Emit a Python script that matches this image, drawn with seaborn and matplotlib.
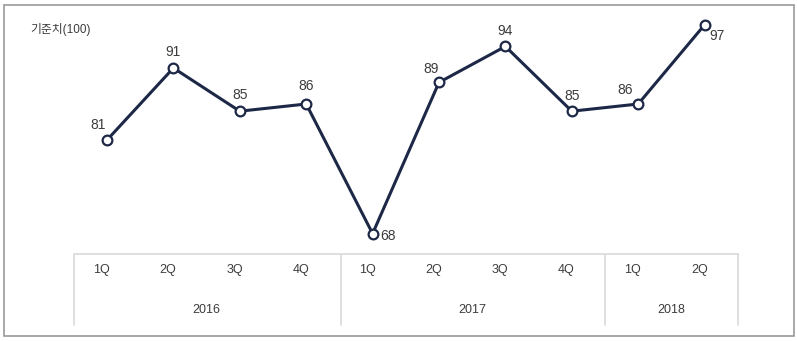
import matplotlib
matplotlib.use("Agg")
import matplotlib.pyplot as plt
from matplotlib.lines import Line2D
from matplotlib.patches import Rectangle
import seaborn as sns
import pandas as pd

quarters = ["1Q", "2Q", "3Q", "4Q", "1Q", "2Q", "3Q", "4Q", "1Q", "2Q"]
years = ["2016", "2017", "2018"]
year_counts = [4, 4, 2]
values = [81, 91, 85, 86, 68, 89, 94, 85, 86, 97]
unit_label = "기준치(100)"

sns.set_theme(style="white")
plt.rcParams["font.family"] = ["Liberation Sans", "Noto Sans CJK KR", "DejaVu Sans"]

W, H = 797, 341
fig = plt.figure(figsize=(W / 100, H / 100), dpi=100)
ax = fig.add_axes([0, 0, 1, 1])
ax.set_facecolor("none")

df = pd.DataFrame({"idx": list(range(len(values))), "val": values})
navy = "#1d2847"
sns.lineplot(data=df, x="idx", y="val", ax=ax, color=navy, linewidth=2.2,
             marker="o", markersize=7, markerfacecolor="white",
             markeredgecolor=navy, markeredgewidth=1.6)

# pixel mapping: x pixel = 107 + 66.4*i ; y pixel = 140 - 7.2*(v-81)
ax.set_xlim(-107 / 66.4, (W - 107) / 66.4)
ax.set_ylim(81 - (H - 140) / 7.2, 81 + 140 / 7.2)
ax.axis("off")

txt_color = "#3c3c3c"
offsets = {0: (-9, 15), 1: (0, 16), 2: (0, 16), 3: (0, 18), 4: (15, -2),
           5: (-8, 13), 6: (0, 15), 7: (0, 15), 8: (-13, 14), 9: (12, -11)}
for i, v in enumerate(values):
    dx, dy = offsets[i]
    ax.annotate(str(v), (i, v), xytext=(dx * 0.72, dy * 0.72),
                textcoords="offset points", ha="center", va="center",
                fontsize=10, color=txt_color)

def fx(px):
    return px / W

def fy(py):
    return 1 - py / H

fig.text(fx(30), fy(30), unit_label, fontsize=8.5, color=txt_color,
         ha="left", va="center")

# outer frame
fig.patches.append(Rectangle((fx(3.5), fy(336)), fx(790), 331 / H,
                             transform=fig.transFigure, fill=False,
                             edgecolor="#9a9a9a", linewidth=1.2))

# category table
grid = "#dcdcdc"
fig.lines.append(Line2D([fx(74), fx(738)], [fy(254), fy(254)],
                        transform=fig.transFigure, color=grid, linewidth=1.3))
for px in [74, 341, 605, 738]:
    fig.lines.append(Line2D([fx(px), fx(px)], [fy(254), fy(325)],
                            transform=fig.transFigure, color=grid, linewidth=1.3))

for i, q in enumerate(quarters):
    ax.text(i - 0.08, fy(270), q, transform=ax.get_xaxis_transform(),
            fontsize=9, color=txt_color, ha="center", va="center")

start = 0
for y, c in zip(years, year_counts):
    center = start + (c - 1) / 2
    ax.text(center, fy(310), y, transform=ax.get_xaxis_transform(),
            fontsize=9, color=txt_color, ha="center", va="center")
    start += c

fig.savefig("out.png", dpi=100)
